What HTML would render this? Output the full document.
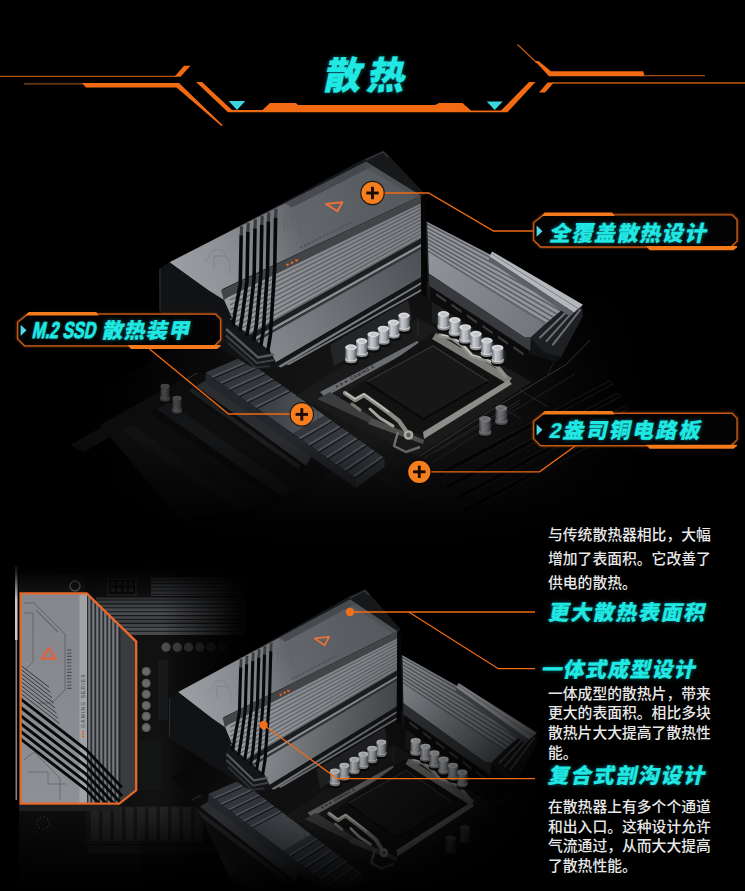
<!DOCTYPE html>
<html lang="zh-CN"><head><meta charset="utf-8"><title>散热</title>
<style>
html,body{margin:0;padding:0;background:#000;}
body{width:745px;height:891px;overflow:hidden;position:relative;font-family:"Liberation Sans","Noto Sans CJK SC",sans-serif;}
svg{position:absolute;left:0;top:0;display:block}
.t{position:absolute;white-space:nowrap;margin:0;line-height:1;}
.cy{color:#20e8e2;font-weight:900;-webkit-text-stroke:0.2px #20e8e2;font-style:normal;transform-origin:0 50%;text-shadow:0 0 4px rgba(20,200,220,.55);}
.bd{color:#e8e8e8;font-size:14.8px;font-weight:500;letter-spacing:0px;}
</style></head><body>
<svg width="745" height="891" viewBox="0 0 745 891">
<defs>
<filter id="glowO" x="-10%" y="-30%" width="120%" height="160%"><feGaussianBlur stdDeviation="1.2" result="b"/><feMerge><feMergeNode in="b"/><feMergeNode in="SourceGraphic"/></feMerge></filter>
<linearGradient id="topA" gradientUnits="userSpaceOnUse" x1="170" y1="270" x2="420" y2="170">
<stop offset="0" stop-color="#9c9fa3"/><stop offset="0.2" stop-color="#8e9195"/><stop offset="0.34" stop-color="#7e8185"/><stop offset="0.5" stop-color="#64676b"/><stop offset="0.75" stop-color="#5a5d61"/><stop offset="1" stop-color="#54575b"/></linearGradient>
<linearGradient id="ribA" gradientUnits="userSpaceOnUse" x1="240" y1="330" x2="421" y2="220">
<stop offset="0" stop-color="#979a9e"/><stop offset="0.4" stop-color="#888b8f"/><stop offset="1" stop-color="#7e8185"/></linearGradient>
<linearGradient id="smoothA" gradientUnits="userSpaceOnUse" x1="250" y1="350" x2="421" y2="255">
<stop offset="0" stop-color="#888b8f"/><stop offset="0.35" stop-color="#75787c"/><stop offset="0.7" stop-color="#5f6266"/><stop offset="1" stop-color="#4d5054"/></linearGradient>
<linearGradient id="hsB" gradientUnits="userSpaceOnUse" x1="426" y1="260" x2="540" y2="330">
<stop offset="0" stop-color="#90939a"/><stop offset="1" stop-color="#72757a"/></linearGradient>
<linearGradient id="capBody" x1="0" y1="0" x2="1" y2="0">
<stop offset="0" stop-color="#6e7175"/><stop offset="0.3" stop-color="#c9ccd0"/><stop offset="0.65" stop-color="#a9acb0"/><stop offset="1" stop-color="#55585c"/></linearGradient>
<radialGradient id="pcbG" gradientUnits="userSpaceOnUse" cx="370" cy="410" r="290">
<stop offset="0" stop-color="#181819"/><stop offset="0.45" stop-color="#0f0f10"/><stop offset="0.75" stop-color="#060606" stop-opacity="0.7"/><stop offset="1" stop-color="#000" stop-opacity="0"/></radialGradient>
<linearGradient id="topFadeB" x1="0" y1="0" x2="0" y2="1"><stop offset="0" stop-color="#000" stop-opacity="0"/><stop offset="0.75" stop-color="#000" stop-opacity="0.9"/><stop offset="1" stop-color="#000" stop-opacity="1"/></linearGradient>
<linearGradient id="cFadeR" x1="0" y1="0" x2="1" y2="0"><stop offset="0" stop-color="#000" stop-opacity="0"/><stop offset="0.06" stop-color="#000" stop-opacity="0.22"/><stop offset="0.25" stop-color="#000" stop-opacity="0.4"/><stop offset="0.38" stop-color="#000" stop-opacity="0.62"/><stop offset="0.5" stop-color="#000" stop-opacity="0.95"/><stop offset="1" stop-color="#000" stop-opacity="1"/></linearGradient>
<linearGradient id="cFadeB" x1="0" y1="0" x2="0" y2="1"><stop offset="0" stop-color="#000" stop-opacity="0"/><stop offset="0.4" stop-color="#000" stop-opacity="0.05"/><stop offset="0.7" stop-color="#000" stop-opacity="0.4"/><stop offset="0.92" stop-color="#000" stop-opacity="0.88"/><stop offset="1" stop-color="#000" stop-opacity="1"/></linearGradient>
<linearGradient id="tvBg" x1="0" y1="0" x2="1" y2="0"><stop offset="0" stop-color="#0e0e0f"/><stop offset="0.6" stop-color="#111112"/><stop offset="1" stop-color="#050505"/></linearGradient>
<linearGradient id="tvFin" x1="0" y1="0" x2="0" y2="1"><stop offset="0" stop-color="#303235"/><stop offset="0.42" stop-color="#4a4c50"/><stop offset="0.66" stop-color="#3a3c40"/><stop offset="0.82" stop-color="#4c4e52"/><stop offset="1" stop-color="#45474b"/></linearGradient>
<linearGradient id="tvFadeR" x1="0" y1="0" x2="1" y2="0"><stop offset="0" stop-color="#000" stop-opacity="0"/><stop offset="0.6" stop-color="#000" stop-opacity="0"/><stop offset="0.9" stop-color="#000" stop-opacity="0.9"/><stop offset="1" stop-color="#000" stop-opacity="1"/></linearGradient>
<linearGradient id="tvFadeT" x1="0" y1="0" x2="0" y2="1"><stop offset="0" stop-color="#000" stop-opacity="1"/><stop offset="0.3" stop-color="#000" stop-opacity="0.85"/><stop offset="1" stop-color="#000" stop-opacity="0"/></linearGradient>
<linearGradient id="tvFadeB" x1="0" y1="0" x2="0" y2="1"><stop offset="0" stop-color="#000" stop-opacity="0"/><stop offset="0.7" stop-color="#000" stop-opacity="0.8"/><stop offset="1" stop-color="#000" stop-opacity="1"/></linearGradient>
<linearGradient id="plateE" x1="0" y1="0" x2="0" y2="1"><stop offset="0" stop-color="#85878d"/><stop offset="0.5" stop-color="#888a90"/><stop offset="1" stop-color="#8e9096"/></linearGradient>
<linearGradient id="m2flat" gradientUnits="userSpaceOnUse" x1="256" y1="410" x2="320" y2="415"><stop offset="0" stop-color="#373b40"/><stop offset="1" stop-color="#53585e"/></linearGradient>
<linearGradient id="cFadeD" gradientUnits="userSpaceOnUse" x1="330" y1="700" x2="520" y2="880"><stop offset="0" stop-color="#000" stop-opacity="0"/><stop offset="0.25" stop-color="#000" stop-opacity="0.22"/><stop offset="0.5" stop-color="#000" stop-opacity="0.5"/><stop offset="0.72" stop-color="#000" stop-opacity="0.82"/><stop offset="0.9" stop-color="#000" stop-opacity="1"/><stop offset="1" stop-color="#000" stop-opacity="1"/></linearGradient>
<linearGradient id="cFadeB2" x1="0" y1="0" x2="0" y2="1"><stop offset="0" stop-color="#000" stop-opacity="0"/><stop offset="0.5" stop-color="#000" stop-opacity="0.35"/><stop offset="1" stop-color="#000" stop-opacity="0.95"/></linearGradient>
<g id="scene">
<polygon points="20.0,440.0 300.0,270.0 640.0,300.0 745.0,420.0 745.0,520.0 500.0,545.0 120.0,545.0" fill="url(#pcbG)" />
<polygon points="437.0,473.0 610.0,380.5 613.0,384.0 440.0,477.0" fill="#040404" stroke="#1d1d1e" stroke-width="0.9" opacity="0.9"/>
<polygon points="444.5,485.5 617.5,393.0 620.5,396.5 447.5,489.5" fill="#040404" stroke="#1d1d1e" stroke-width="0.9" opacity="0.9"/>
<polygon points="452.0,498.0 625.0,405.5 628.0,409.0 455.0,502.0" fill="#040404" stroke="#1d1d1e" stroke-width="0.9" opacity="0.9"/>
<polygon points="459.5,510.5 632.5,418.0 635.5,421.5 462.5,514.5" fill="#040404" stroke="#1d1d1e" stroke-width="0.9" opacity="0.9"/>
<polyline points="420.0,456.0 492.0,409.5 566.0,364.5 590.0,340.0" fill="none" stroke="#4a4a4a" stroke-width="0.90" opacity="0.75"/>
<polyline points="432.0,463.0 505.0,416.0 575.0,374.0" fill="none" stroke="#333" stroke-width="0.80" opacity="0.7"/>
<polyline points="495.0,403.0 521.0,419.0" fill="none" stroke="#3c3c3c" stroke-width="0.80" opacity="0.7"/>
<polyline points="520.0,390.0 548.0,407.0" fill="none" stroke="#3c3c3c" stroke-width="0.80" opacity="0.7"/>
<polyline points="548.0,374.0 575.0,320.0" fill="none" stroke="#3a3a3a" stroke-width="0.80" opacity="0.6"/>
<polyline points="300.0,430.0 330.0,448.0 420.0,500.0" fill="none" stroke="#2a2a2a" stroke-width="0.80" opacity="0.7"/>
<polygon points="100.0,425.0 190.0,375.0 330.0,470.0 300.0,500.0 180.0,520.0" fill="#0e0e0f" opacity="0.9"/>
<polygon points="186.0,379.0 196.0,373.0 312.0,455.0 306.0,466.0" fill="#2a2c2f" />
<line x1="196.0" y1="373.4" x2="312.0" y2="455.4" stroke="#45474b" stroke-width="1.00" />
<polygon points="186.0,379.0 306.0,466.0 304.0,478.0 184.0,391.0" fill="#0c0c0d" />
<polygon points="190.0,386.0 300.0,465.0 299.0,470.0 189.0,391.0" fill="#1c1d1f" />
<polygon points="148.0,403.0 160.0,396.0 292.0,488.0 282.0,497.0" fill="#141516" />
<polygon points="148.0,403.0 282.0,497.0 281.0,505.0 147.0,411.0" fill="#09090a" />
<polygon points="120.0,430.0 130.0,424.0 250.0,505.0 240.0,512.0" fill="#111112" />
<polygon points="70.0,445.0 200.0,372.0 210.0,378.0 84.0,452.0" fill="#0c0c0d" />
<polygon points="205.5,372.4 356.0,478.0 356.0,488.0 205.5,382.5" fill="#23262a" />
<polygon points="356.0,478.0 384.5,458.0 384.5,467.0 356.0,488.0" fill="#2c2f34" />
<polygon points="205.5,372.4 242.0,357.0 384.5,458.0 356.0,478.0" fill="#121316" />
<polygon points="205.5,372.4 242.0,357.0 247.1,360.6 210.9,376.2" fill="#33373c" />
<polygon points="210.9,376.2 247.1,360.6 249.1,362.1 213.0,377.7" fill="#4d5258" />
<polygon points="214.2,378.5 250.2,362.8 255.3,366.4 219.5,382.2" fill="#33373c" />
<polygon points="219.5,382.2 255.3,366.4 257.3,367.9 221.7,383.8" fill="#4d5258" />
<polygon points="222.8,384.5 258.4,368.6 263.5,372.2 228.2,388.3" fill="#33373c" />
<polygon points="228.2,388.3 263.5,372.2 265.5,373.7 230.3,389.8" fill="#4d5258" />
<polygon points="231.5,390.6 266.6,374.4 271.7,378.0 236.8,394.4" fill="#33373c" />
<polygon points="236.8,394.4 271.7,378.0 273.7,379.5 239.0,395.9" fill="#4d5258" />
<polygon points="240.1,396.7 274.8,380.2 279.9,383.8 245.5,400.5" fill="#33373c" />
<polygon points="245.5,400.5 279.9,383.8 281.9,385.3 247.6,402.0" fill="#4d5258" />
<polygon points="248.8,402.8 283.0,386.0 288.0,389.6 254.1,406.5" fill="#33373c" />
<polygon points="254.1,406.5 288.0,389.6 290.1,391.1 256.3,408.0" fill="#4d5258" />
<polygon points="292.8,433.6 324.6,415.6 330.0,419.3 298.4,437.6" fill="#33373c" />
<polygon points="298.4,437.6 330.0,419.3 332.1,420.9 300.6,439.2" fill="#4d5258" />
<polygon points="301.8,440.0 333.2,421.6 338.5,425.4 307.4,443.9" fill="#33373c" />
<polygon points="307.4,443.9 338.5,425.4 340.6,426.9 309.7,445.5" fill="#4d5258" />
<polygon points="310.9,446.3 341.8,427.7 347.1,431.5 316.4,450.2" fill="#33373c" />
<polygon points="316.4,450.2 347.1,431.5 349.2,433.0 318.7,451.8" fill="#4d5258" />
<polygon points="319.9,452.7 350.3,433.8 355.6,437.5 325.5,456.6" fill="#33373c" />
<polygon points="325.5,456.6 355.6,437.5 357.7,439.0 327.7,458.2" fill="#4d5258" />
<polygon points="328.9,459.0 358.9,439.8 364.2,443.6 334.5,462.9" fill="#33373c" />
<polygon points="334.5,462.9 364.2,443.6 366.3,445.1 336.8,464.5" fill="#4d5258" />
<polygon points="337.9,465.3 367.4,445.9 372.7,449.6 343.5,469.3" fill="#33373c" />
<polygon points="343.5,469.3 372.7,449.6 374.8,451.2 345.8,470.8" fill="#4d5258" />
<polygon points="347.0,471.7 375.9,451.9 381.3,455.7 352.6,475.6" fill="#33373c" />
<polygon points="352.6,475.6 381.3,455.7 383.4,457.2 354.8,477.2" fill="#4d5258" />
<polygon points="257.4,408.8 291.2,391.8 324.6,415.6 292.8,433.6" fill="url(#m2flat)" />
<polygon points="418.0,318.0 532.0,382.0 416.0,456.0 296.0,396.0" fill="#1a1a1b" />
<polygon points="330.0,345.0 408.0,300.0 412.0,320.0 334.0,366.0" fill="#242527" />
<polygon points="432.0,302.0 506.0,344.0 506.0,362.0 432.0,322.0" fill="#1c1d1f" />
<polygon points="320.0,392.0 417.0,341.0 421.0,344.5 325.0,397.0" fill="#6b6e71" />
<text x="0" y="0" transform="translate(336,388.3) rotate(-28)" font-family="Liberation Sans, sans-serif" font-size="4.6" font-weight="700" letter-spacing="0.5" fill="#2a2b2d">&#9658;&#9658;&#9658; GAMING X</text>
<polygon points="317.0,399.0 330.0,392.0 372.0,417.0 372.0,424.0" fill="#3b3c3d" />
<polygon points="431.0,334.0 512.0,380.0 424.0,437.0 340.0,398.0" fill="#121212" />
<polygon points="436.0,333.0 512.0,378.0 508.0,384.0 432.0,339.0" fill="#7d7c78" />
<polygon points="423.0,432.0 508.0,380.0 512.0,384.0 424.0,439.0" fill="#8c8c89" />
<polygon points="372.0,418.0 424.0,440.0 423.0,444.0 368.0,424.0" fill="#4e4e4d" />
<polygon points="433.0,346.0 488.5,381.5 423.5,419.0 366.0,382.0" fill="#171717" />
<polyline points="366.0,382.0 433.0,346.0 488.5,381.5" fill="none" stroke="#343434" stroke-width="1.20" />
<polyline points="366.0,382.0 423.5,419.0 488.5,381.5" fill="none" stroke="#080808" stroke-width="1.50" />
<polyline points="345.0,393.0 355.0,400.0 364.0,395.0 378.0,405.0 389.0,413.0 399.0,421.0 406.0,431.0" fill="none" stroke="#8a8984" stroke-width="4.40" stroke-linejoin="round" stroke-linecap="round"/>
<polyline points="345.0,392.4 355.0,399.0 364.0,394.0 378.0,404.0 389.0,412.0" fill="none" stroke="#c9c7c0" stroke-width="1.30" stroke-linejoin="round"/>
<polyline points="370.0,409.0 380.0,418.0 393.0,426.0" fill="none" stroke="#a5a49f" stroke-width="3.00" stroke-linecap="round"/>
<polyline points="352.0,404.0 360.0,410.0" fill="none" stroke="#77766f" stroke-width="3.00" stroke-linecap="round"/>
<polyline points="440.0,335.5 452.0,338.0 462.0,345.0 472.0,356.0 486.0,360.0 497.0,366.0 505.0,376.0" fill="none" stroke="#8f8e89" stroke-width="4.20" stroke-linejoin="round" stroke-linecap="round"/>
<polyline points="441.0,334.6 452.0,337.0 462.0,344.0 472.0,355.0 486.0,359.0 497.0,365.0" fill="none" stroke="#cfcdc6" stroke-width="1.20" stroke-linejoin="round"/>
<circle cx="408.5" cy="435" r="4.8" fill="#a9a8a3"/><circle cx="408.5" cy="435" r="2.2" fill="#5b5a55"/>
<polyline points="398.0,432.0 394.0,446.0 406.0,452.0 420.0,447.0" fill="none" stroke="#73726d" stroke-width="2.40" stroke-linejoin="round"/>
<polyline points="300.0,402.0 318.0,412.0 318.0,430.0" fill="none" stroke="#3c3c3c" stroke-width="0.90" opacity="0.8"/>
<polyline points="424.0,458.0 470.0,430.0 520.0,400.0" fill="none" stroke="#343434" stroke-width="0.90" opacity="0.8"/>
<polyline points="436.0,452.0 520.0,403.0" fill="none" stroke="#2c2c2c" stroke-width="0.90" opacity="0.7"/>
<polyline points="418.0,322.0 418.0,336.0" fill="none" stroke="#3a3a3a" stroke-width="0.90" opacity="0.8"/>
<polygon points="428.0,284.0 524.0,352.0 522.0,362.0 430.5,300.0" fill="#0c0c0d" />
<polygon points="436.0,293.0 446.0,300.0 446.0,302.5 436.0,295.5" fill="#3a3c3f" />
<polygon points="451.5,303.6 461.5,310.6 461.5,313.1 451.5,306.1" fill="#3a3c3f" />
<polygon points="467.0,314.2 477.0,321.2 477.0,323.7 467.0,316.7" fill="#3a3c3f" />
<polygon points="482.5,324.8 492.5,331.8 492.5,334.3 482.5,327.3" fill="#3a3c3f" />
<polygon points="498.0,335.4 508.0,342.4 508.0,344.9 498.0,337.9" fill="#3a3c3f" />
<polygon points="513.5,346.0 523.5,353.0 523.5,355.5 513.5,348.5" fill="#3a3c3f" />
<polygon points="565.0,307.6 582.0,305.0 583.0,316.0 561.0,357.0 530.0,351.0 531.0,336.0" fill="#1d1f22" />
<line x1="539.5" y1="338.0" x2="570.2" y2="308.2" stroke="#6c6f75" stroke-width="2.00" />
<line x1="546.0" y1="341.6" x2="575.4" y2="308.8" stroke="#6c6f75" stroke-width="2.00" />
<line x1="552.5" y1="345.2" x2="580.6" y2="309.4" stroke="#6c6f75" stroke-width="2.00" />
<polygon points="531.0,338.0 544.0,352.0 561.0,357.0 556.0,362.0 528.0,354.0" fill="#111214" />
<polygon points="426.4,221.4 491.0,254.9 566.0,306.5 545.0,324.2 428.0,251.6" fill="#92959a" />
<clipPath id="clipBr"><polygon points="426.4,221.4 491,254.9 566,306.5 545,324.2 428,251.6"/></clipPath><g clip-path="url(#clipBr)">
<line x1="427.0" y1="224.0" x2="570.0" y2="299.8" stroke="#54575b" stroke-width="1.50" opacity="0.9"/>
<line x1="427.0" y1="227.8" x2="570.0" y2="305.2" stroke="#54575b" stroke-width="1.50" opacity="0.9"/>
<line x1="427.0" y1="231.6" x2="570.0" y2="310.7" stroke="#54575b" stroke-width="1.50" opacity="0.9"/>
<line x1="427.0" y1="235.4" x2="570.0" y2="316.1" stroke="#54575b" stroke-width="1.50" opacity="0.9"/>
<line x1="427.0" y1="239.1" x2="570.0" y2="321.6" stroke="#54575b" stroke-width="1.50" opacity="0.9"/>
<line x1="427.0" y1="242.9" x2="570.0" y2="327.1" stroke="#54575b" stroke-width="1.50" opacity="0.9"/>
<line x1="427.0" y1="246.7" x2="570.0" y2="332.5" stroke="#54575b" stroke-width="1.50" opacity="0.9"/>
<line x1="427.0" y1="250.5" x2="570.0" y2="338.0" stroke="#54575b" stroke-width="1.50" opacity="0.9"/>
</g>
<polygon points="428.0,251.6 545.0,324.2 531.0,337.0 524.0,336.9 428.0,273.0" fill="url(#hsB)" />
<polygon points="428.0,273.0 524.0,336.9 531.0,337.0 530.0,351.0 428.0,285.0" fill="#37393d" />
<polygon points="566.0,306.5 590.0,300.0 590.0,330.0 545.0,324.2" fill="#000" opacity="0"/>
<polygon points="489.5,256.5 492.0,251.4 583.0,304.8 574.0,312.5" fill="#b4b7bb" />
<line x1="491.5" y1="253.8" x2="578.0" y2="308.5" stroke="#7d8084" stroke-width="1.00" />
<polygon points="489.5,256.5 574.0,312.5 570.0,316.5 488.5,260.5" fill="#5d6064" />
<line x1="426.3" y1="221.5" x2="429.0" y2="299.0" stroke="#1c1d1f" stroke-width="1.60" />
<g opacity="1.00"><ellipse cx="444.0" cy="329.0" rx="7.0" ry="3.8" fill="#0a0a0b"/><path d="M437.4 325.4 v2.4 a6.2 3.0 0 0 0 12.3 0 v-2.4 z" fill="#8a8d90"/><path d="M437.8 314.0 v11.8 a5.8 3.0 0 0 0 11.5 0 v-11.8 z" fill="url(#capBody)"/><path d="M437.8 325.4 a5.8 3.0 0 0 0 11.5 0" fill="none" stroke="#d6d8db" stroke-width="1"/><ellipse cx="443.5" cy="314.0" rx="5.8" ry="3.0" fill="#d9dbde"/><ellipse cx="443.8" cy="314.2" rx="3.6" ry="1.8" fill="#c4c6ca"/></g>
<g opacity="1.00"><ellipse cx="455.3" cy="335.0" rx="7.0" ry="3.8" fill="#0a0a0b"/><path d="M448.7 331.4 v2.4 a6.2 3.0 0 0 0 12.3 0 v-2.4 z" fill="#8a8d90"/><path d="M449.1 320.0 v11.8 a5.8 3.0 0 0 0 11.5 0 v-11.8 z" fill="url(#capBody)"/><path d="M449.1 331.4 a5.8 3.0 0 0 0 11.5 0" fill="none" stroke="#d6d8db" stroke-width="1"/><ellipse cx="454.8" cy="320.0" rx="5.8" ry="3.0" fill="#d9dbde"/><ellipse cx="455.1" cy="320.2" rx="3.6" ry="1.8" fill="#c4c6ca"/></g>
<g opacity="1.00"><ellipse cx="465.8" cy="342.2" rx="7.0" ry="3.8" fill="#0a0a0b"/><path d="M459.2 338.6 v2.4 a6.2 3.0 0 0 0 12.3 0 v-2.4 z" fill="#8a8d90"/><path d="M459.6 327.2 v11.8 a5.8 3.0 0 0 0 11.5 0 v-11.8 z" fill="url(#capBody)"/><path d="M459.6 338.6 a5.8 3.0 0 0 0 11.5 0" fill="none" stroke="#d6d8db" stroke-width="1"/><ellipse cx="465.3" cy="327.2" rx="5.8" ry="3.0" fill="#d9dbde"/><ellipse cx="465.6" cy="327.4" rx="3.6" ry="1.8" fill="#c4c6ca"/></g>
<g opacity="1.00"><ellipse cx="476.4" cy="348.8" rx="7.0" ry="3.8" fill="#0a0a0b"/><path d="M469.8 345.2 v2.4 a6.2 3.0 0 0 0 12.3 0 v-2.4 z" fill="#8a8d90"/><path d="M470.1 333.8 v11.8 a5.8 3.0 0 0 0 11.5 0 v-11.8 z" fill="url(#capBody)"/><path d="M470.1 345.2 a5.8 3.0 0 0 0 11.5 0" fill="none" stroke="#d6d8db" stroke-width="1"/><ellipse cx="475.9" cy="333.8" rx="5.8" ry="3.0" fill="#d9dbde"/><ellipse cx="476.2" cy="334.0" rx="3.6" ry="1.8" fill="#c4c6ca"/></g>
<g opacity="1.00"><ellipse cx="487.3" cy="355.5" rx="7.0" ry="3.8" fill="#0a0a0b"/><path d="M480.7 351.9 v2.4 a6.2 3.0 0 0 0 12.3 0 v-2.4 z" fill="#8a8d90"/><path d="M481.1 340.5 v11.8 a5.8 3.0 0 0 0 11.5 0 v-11.8 z" fill="url(#capBody)"/><path d="M481.1 351.9 a5.8 3.0 0 0 0 11.5 0" fill="none" stroke="#d6d8db" stroke-width="1"/><ellipse cx="486.8" cy="340.5" rx="5.8" ry="3.0" fill="#d9dbde"/><ellipse cx="487.1" cy="340.7" rx="3.6" ry="1.8" fill="#c4c6ca"/></g>
<g opacity="1.00"><ellipse cx="498.1" cy="362.7" rx="7.0" ry="3.8" fill="#0a0a0b"/><path d="M491.5 359.1 v2.4 a6.2 3.0 0 0 0 12.3 0 v-2.4 z" fill="#8a8d90"/><path d="M491.9 347.7 v11.8 a5.8 3.0 0 0 0 11.5 0 v-11.8 z" fill="url(#capBody)"/><path d="M491.9 359.1 a5.8 3.0 0 0 0 11.5 0" fill="none" stroke="#d6d8db" stroke-width="1"/><ellipse cx="497.6" cy="347.7" rx="5.8" ry="3.0" fill="#d9dbde"/><ellipse cx="497.9" cy="347.9" rx="3.6" ry="1.8" fill="#c4c6ca"/></g>
<g opacity="1.00"><ellipse cx="404.5" cy="330.3" rx="6.9" ry="3.7" fill="#0a0a0b"/><path d="M398.0 326.7 v2.4 a6.1 2.9 0 0 0 12.1 0 v-2.4 z" fill="#8a8d90"/><path d="M398.4 315.5 v11.6 a5.7 2.9 0 0 0 11.3 0 v-11.6 z" fill="url(#capBody)"/><path d="M398.4 326.7 a5.7 2.9 0 0 0 11.3 0" fill="none" stroke="#d6d8db" stroke-width="1"/><ellipse cx="404.0" cy="315.5" rx="5.7" ry="2.9" fill="#d9dbde"/><ellipse cx="404.3" cy="315.7" rx="3.5" ry="1.8" fill="#c4c6ca"/></g>
<g opacity="1.00"><ellipse cx="394.0" cy="337.3" rx="6.9" ry="3.7" fill="#0a0a0b"/><path d="M387.5 333.7 v2.4 a6.1 2.9 0 0 0 12.1 0 v-2.4 z" fill="#8a8d90"/><path d="M387.9 322.5 v11.6 a5.7 2.9 0 0 0 11.3 0 v-11.6 z" fill="url(#capBody)"/><path d="M387.9 333.7 a5.7 2.9 0 0 0 11.3 0" fill="none" stroke="#d6d8db" stroke-width="1"/><ellipse cx="393.5" cy="322.5" rx="5.7" ry="2.9" fill="#d9dbde"/><ellipse cx="393.8" cy="322.7" rx="3.5" ry="1.8" fill="#c4c6ca"/></g>
<g opacity="1.00"><ellipse cx="383.9" cy="343.4" rx="6.9" ry="3.7" fill="#0a0a0b"/><path d="M377.4 339.8 v2.4 a6.1 2.9 0 0 0 12.1 0 v-2.4 z" fill="#8a8d90"/><path d="M377.8 328.6 v11.6 a5.7 2.9 0 0 0 11.3 0 v-11.6 z" fill="url(#capBody)"/><path d="M377.8 339.8 a5.7 2.9 0 0 0 11.3 0" fill="none" stroke="#d6d8db" stroke-width="1"/><ellipse cx="383.4" cy="328.6" rx="5.7" ry="2.9" fill="#d9dbde"/><ellipse cx="383.7" cy="328.8" rx="3.5" ry="1.8" fill="#c4c6ca"/></g>
<g opacity="1.00"><ellipse cx="373.7" cy="349.1" rx="6.9" ry="3.7" fill="#0a0a0b"/><path d="M367.2 345.5 v2.4 a6.1 2.9 0 0 0 12.1 0 v-2.4 z" fill="#8a8d90"/><path d="M367.6 334.3 v11.6 a5.7 2.9 0 0 0 11.3 0 v-11.6 z" fill="url(#capBody)"/><path d="M367.6 345.5 a5.7 2.9 0 0 0 11.3 0" fill="none" stroke="#d6d8db" stroke-width="1"/><ellipse cx="373.2" cy="334.3" rx="5.7" ry="2.9" fill="#d9dbde"/><ellipse cx="373.5" cy="334.5" rx="3.5" ry="1.8" fill="#c4c6ca"/></g>
<g opacity="1.00"><ellipse cx="362.2" cy="355.8" rx="6.9" ry="3.7" fill="#0a0a0b"/><path d="M355.7 352.2 v2.4 a6.1 2.9 0 0 0 12.1 0 v-2.4 z" fill="#8a8d90"/><path d="M356.1 341.0 v11.6 a5.7 2.9 0 0 0 11.3 0 v-11.6 z" fill="url(#capBody)"/><path d="M356.1 352.2 a5.7 2.9 0 0 0 11.3 0" fill="none" stroke="#d6d8db" stroke-width="1"/><ellipse cx="361.7" cy="341.0" rx="5.7" ry="2.9" fill="#d9dbde"/><ellipse cx="362.0" cy="341.2" rx="3.5" ry="1.8" fill="#c4c6ca"/></g>
<g opacity="1.00"><ellipse cx="351.5" cy="362.0" rx="6.9" ry="3.7" fill="#0a0a0b"/><path d="M345.0 358.4 v2.4 a6.1 2.9 0 0 0 12.1 0 v-2.4 z" fill="#8a8d90"/><path d="M345.4 347.2 v11.6 a5.7 2.9 0 0 0 11.3 0 v-11.6 z" fill="url(#capBody)"/><path d="M345.4 358.4 a5.7 2.9 0 0 0 11.3 0" fill="none" stroke="#d6d8db" stroke-width="1"/><ellipse cx="351.0" cy="347.2" rx="5.7" ry="2.9" fill="#d9dbde"/><ellipse cx="351.3" cy="347.4" rx="3.5" ry="1.8" fill="#c4c6ca"/></g>
<g opacity="0.50"><ellipse cx="485.5" cy="434.4" rx="7.0" ry="3.8" fill="#0a0a0b"/><path d="M478.9 430.8 v2.4 a6.2 3.0 0 0 0 12.3 0 v-2.4 z" fill="#8a8d90"/><path d="M479.2 419.0 v12.2 a5.8 3.0 0 0 0 11.5 0 v-12.2 z" fill="url(#capBody)"/><path d="M479.2 430.8 a5.8 3.0 0 0 0 11.5 0" fill="none" stroke="#d6d8db" stroke-width="1"/><ellipse cx="485.0" cy="419.0" rx="5.8" ry="3.0" fill="#d9dbde"/><ellipse cx="485.3" cy="419.2" rx="3.6" ry="1.8" fill="#c4c6ca"/></g>
<g opacity="0.50"><ellipse cx="501.8" cy="423.4" rx="7.0" ry="3.8" fill="#0a0a0b"/><path d="M495.2 419.8 v2.4 a6.2 3.0 0 0 0 12.3 0 v-2.4 z" fill="#8a8d90"/><path d="M495.6 408.0 v12.2 a5.8 3.0 0 0 0 11.5 0 v-12.2 z" fill="url(#capBody)"/><path d="M495.6 419.8 a5.8 3.0 0 0 0 11.5 0" fill="none" stroke="#d6d8db" stroke-width="1"/><ellipse cx="501.3" cy="408.0" rx="5.8" ry="3.0" fill="#d9dbde"/><ellipse cx="501.6" cy="408.2" rx="3.6" ry="1.8" fill="#c4c6ca"/></g>
<g opacity="0.30"><ellipse cx="165.5" cy="400.4" rx="5.7" ry="3.1" fill="#0a0a0b"/><path d="M160.1 396.8 v2.4 a4.9 2.3 0 0 0 9.8 0 v-2.4 z" fill="#8a8d90"/><path d="M160.5 386.0 v11.2 a4.5 2.3 0 0 0 9.0 0 v-11.2 z" fill="url(#capBody)"/><path d="M160.5 396.8 a4.5 2.3 0 0 0 9.0 0" fill="none" stroke="#d6d8db" stroke-width="1"/><ellipse cx="165.0" cy="386.0" rx="4.5" ry="2.3" fill="#d9dbde"/><ellipse cx="165.3" cy="386.2" rx="2.8" ry="1.4" fill="#c4c6ca"/></g>
<g opacity="0.30"><ellipse cx="177.5" cy="412.4" rx="5.7" ry="3.1" fill="#0a0a0b"/><path d="M172.1 408.8 v2.4 a4.9 2.3 0 0 0 9.8 0 v-2.4 z" fill="#8a8d90"/><path d="M172.5 398.0 v11.2 a4.5 2.3 0 0 0 9.0 0 v-11.2 z" fill="url(#capBody)"/><path d="M172.5 408.8 a4.5 2.3 0 0 0 9.0 0" fill="none" stroke="#d6d8db" stroke-width="1"/><ellipse cx="177.0" cy="398.0" rx="4.5" ry="2.3" fill="#d9dbde"/><ellipse cx="177.3" cy="398.2" rx="2.8" ry="1.4" fill="#c4c6ca"/></g>
<polygon points="159.5,268.5 168.5,262.5 223.0,299.0 236.0,322.0 258.0,361.0 250.0,366.0 160.0,312.0" fill="#111214" />
<line x1="160.0" y1="269.0" x2="160.0" y2="311.0" stroke="#2d2f32" stroke-width="1.20" />
<polygon points="159.5,268.5 366.0,158.0 384.0,150.5 425.0,194.0 421.0,197.0 366.0,162.5 168.5,264.0" fill="#17181a" />
<polyline points="366.0,160.0 383.0,152.0 388.0,157.0" fill="none" stroke="#3a3c3f" stroke-width="1.20" />
<polygon points="169.5,262.2 366.0,161.7 421.0,195.8 222.0,289.3 224.0,300.0 208.5,290.2" fill="url(#topA)" />
<polygon points="285.0,203.2 366.0,161.7 373.0,166.0 292.0,207.5" fill="#3f4145" opacity="0.75"/>
<polygon points="366.0,161.7 421.0,195.8 416.0,198.0 362.0,165.0" fill="#4a4c50" opacity="0.6"/>
<polyline points="205.0,262.0 213.0,250.0 222.0,250.0 230.0,262.0 230.0,274.0" fill="none" stroke="#6a6d71" stroke-width="0.90" opacity="0.4"/>
<polyline points="214.0,268.0 214.0,256.0 226.0,256.0" fill="none" stroke="#74777b" stroke-width="1.00" opacity="0.6"/>
<polyline points="282.0,222.0 300.0,212.0 300.0,236.0 318.0,226.0" fill="none" stroke="#60636a" stroke-width="0.90" opacity="0.7"/>
<line x1="284.0" y1="214.0" x2="284.0" y2="232.0" stroke="#5f6266" stroke-width="0.90" opacity="0.6"/>
<line x1="287.2" y1="212.4" x2="287.2" y2="230.4" stroke="#5f6266" stroke-width="0.90" opacity="0.6"/>
<line x1="290.4" y1="210.8" x2="290.4" y2="228.8" stroke="#5f6266" stroke-width="0.90" opacity="0.6"/>
<line x1="293.6" y1="209.2" x2="293.6" y2="227.2" stroke="#5f6266" stroke-width="0.90" opacity="0.6"/>
<line x1="296.8" y1="207.6" x2="296.8" y2="225.6" stroke="#5f6266" stroke-width="0.90" opacity="0.6"/>
<line x1="300.0" y1="206.0" x2="300.0" y2="224.0" stroke="#5f6266" stroke-width="0.90" opacity="0.6"/>
<line x1="303.2" y1="204.4" x2="303.2" y2="222.4" stroke="#5f6266" stroke-width="0.90" opacity="0.6"/>
<polyline points="300.0,248.0 352.0,222.0" fill="none" stroke="#4c4f53" stroke-width="1.60" opacity="0.8" stroke-dasharray="3 1.2"/>
<polygon points="221.0,290.2 421.5,195.6 421.5,203.1 224.0,300.2" fill="#424448" />
<polygon points="224.0,300.0 228.0,297.3 421.5,203.1 421.5,238.2 240.0,340.0 234.0,322.0" fill="url(#ribA)" />
<line x1="230.0" y1="300.0" x2="421.5" y2="205.7" stroke="#55585c" stroke-width="1.30" opacity="0.85"/>
<line x1="230.0" y1="304.9" x2="421.5" y2="209.2" stroke="#55585c" stroke-width="1.30" opacity="0.85"/>
<line x1="230.0" y1="309.9" x2="421.5" y2="212.7" stroke="#55585c" stroke-width="1.30" opacity="0.85"/>
<line x1="230.0" y1="314.8" x2="421.5" y2="216.2" stroke="#55585c" stroke-width="1.30" opacity="0.85"/>
<line x1="230.0" y1="319.7" x2="421.5" y2="219.7" stroke="#55585c" stroke-width="1.30" opacity="0.85"/>
<line x1="230.0" y1="324.6" x2="421.5" y2="223.2" stroke="#55585c" stroke-width="1.30" opacity="0.85"/>
<line x1="230.0" y1="329.6" x2="421.5" y2="226.8" stroke="#55585c" stroke-width="1.30" opacity="0.85"/>
<line x1="230.0" y1="334.5" x2="421.5" y2="230.3" stroke="#55585c" stroke-width="1.30" opacity="0.85"/>
<line x1="230.0" y1="339.4" x2="421.5" y2="233.8" stroke="#55585c" stroke-width="1.30" opacity="0.85"/>
<line x1="230.0" y1="344.4" x2="421.5" y2="237.3" stroke="#55585c" stroke-width="1.30" opacity="0.85"/>
<polygon points="240.0,340.0 421.5,238.2 421.5,243.7 243.0,343.8" fill="#1c1e20" />
<polygon points="243.0,343.8 421.5,243.7 421.5,246.6 245.0,345.9" fill="#8b8e92" />
<polygon points="245.0,345.9 421.5,246.6 421.5,248.7 246.0,347.8" fill="#36383c" />
<polygon points="248.0,346.7 421.5,248.7 421.5,277.1 276.0,362.2 262.0,364.0" fill="url(#smoothA)" />
<polygon points="262.0,366.0 274.0,363.4 421.5,277.1 421.5,291.8 292.0,364.0 266.0,370.0" fill="#141517" />
<polygon points="278.0,366.3 421.5,282.0 421.5,284.1 281.0,367.5" fill="#797c80" />
<polygon points="286.0,364.4 421.5,288.9 421.5,291.0 289.0,365.1" fill="#74777b" />
<polygon points="225.0,324.0 231.0,321.0 270.0,351.0 276.0,362.2 266.0,370.0 250.0,366.0 225.0,343.0" fill="#141517" />
<polyline points="226.0,329.0 258.0,357.5 274.0,354.5" fill="none" stroke="#55585c" stroke-width="2.40" stroke-linejoin="round"/>
<polyline points="226.0,335.5 257.0,363.0 274.0,360.0" fill="none" stroke="#3f4246" stroke-width="2.20" stroke-linejoin="round"/>
<polyline points="228.0,343.0 256.0,367.5 270.0,366.0" fill="none" stroke="#2c2e31" stroke-width="2.00" stroke-linejoin="round"/>
<polygon points="420.8,195.5 425.5,198.5 426.0,297.0 421.3,294.0" fill="#060607" />
<polyline points="241.6,226.3 241.2,235.3" fill="none" stroke="#3a3c3f" stroke-width="3.20" />
<polyline points="241.2,235.3 240.3,284.1 235.6,309.4 233.0,325.4" fill="none" stroke="#07080a" stroke-width="3.60" stroke-linejoin="round"/>
<polyline points="248.3,222.9 247.9,231.9" fill="none" stroke="#3a3c3f" stroke-width="3.20" />
<polyline points="247.9,231.9 247.0,280.9 242.5,314.6 239.9,330.6" fill="none" stroke="#07080a" stroke-width="3.60" stroke-linejoin="round"/>
<polyline points="255.4,219.3 255.0,228.3" fill="none" stroke="#3a3c3f" stroke-width="3.20" />
<polyline points="255.0,228.3 254.1,277.6 249.5,319.7 246.9,335.7" fill="none" stroke="#07080a" stroke-width="3.60" stroke-linejoin="round"/>
<polyline points="262.2,215.8 261.8,224.8" fill="none" stroke="#3a3c3f" stroke-width="3.20" />
<polyline points="261.8,224.8 260.9,274.4 256.4,324.9 253.8,340.9" fill="none" stroke="#07080a" stroke-width="3.60" stroke-linejoin="round"/>
<polyline points="268.8,212.4 268.4,221.4" fill="none" stroke="#3a3c3f" stroke-width="3.20" />
<polyline points="268.4,221.4 267.5,271.3 263.4,330.0 260.8,346.0" fill="none" stroke="#07080a" stroke-width="3.60" stroke-linejoin="round"/>
<polyline points="276.0,208.7 275.6,217.7" fill="none" stroke="#3a3c3f" stroke-width="3.20" />
<polyline points="275.6,217.7 274.7,267.9 270.4,335.2 267.8,351.2" fill="none" stroke="#07080a" stroke-width="3.60" stroke-linejoin="round"/>
<text x="286" y="267" font-family="Liberation Sans, sans-serif" font-size="5.5" font-weight="700" fill="#e56a1e" transform="rotate(-25 286 267)" letter-spacing="-0.5">&#9658;&#9658;&#9658;</text>
<polygon points="326.0,203.9 342.4,202.2 337.4,211.3" fill="none" stroke="#ee7236" stroke-width="1.9" stroke-linejoin="round"/>
</g></defs>
<rect width="745" height="891" fill="#000"/>
<use href="#scene"/>
<rect x="0" y="440" width="745" height="110" fill="url(#topFadeB)"/>
<rect x="19" y="566" width="235" height="325" fill="url(#tvBg)"/>
<line x1="16.3" y1="568.0" x2="16.3" y2="800.0" stroke="#9a9a9a" stroke-width="1.60" opacity="0.85"/>
<polygon points="15.0,566.0 17.5,566.0 17.5,640.0 15.0,640.0" fill="#c8c8c8" />
<rect x="19" y="574" width="66" height="19" fill="#161718"/>
<circle cx="75" cy="586" r="5" fill="none" stroke="#6a6a6a" stroke-width="1.4"/>
<rect x="108" y="579" width="28" height="16" fill="#0a0a0a" stroke="#2c2c2c" stroke-width="1"/>
<rect x="111.0" y="581.5" width="4" height="4" fill="#1c1c1c"/>
<rect x="111.0" y="588.0" width="4" height="4" fill="#1c1c1c"/>
<rect x="117.0" y="581.5" width="4" height="4" fill="#1c1c1c"/>
<rect x="117.0" y="588.0" width="4" height="4" fill="#1c1c1c"/>
<rect x="123.0" y="581.5" width="4" height="4" fill="#1c1c1c"/>
<rect x="123.0" y="588.0" width="4" height="4" fill="#1c1c1c"/>
<rect x="129.0" y="581.5" width="4" height="4" fill="#1c1c1c"/>
<rect x="129.0" y="588.0" width="4" height="4" fill="#1c1c1c"/>
<rect x="151" y="577.5" width="90" height="18.5" fill="#36383c"/>
<line x1="151.0" y1="580.0" x2="241.0" y2="580.0" stroke="#18191b" stroke-width="1.00" />
<line x1="151.0" y1="583.6" x2="241.0" y2="583.6" stroke="#18191b" stroke-width="1.00" />
<line x1="151.0" y1="587.2" x2="241.0" y2="587.2" stroke="#18191b" stroke-width="1.00" />
<line x1="151.0" y1="590.8" x2="241.0" y2="590.8" stroke="#18191b" stroke-width="1.00" />
<line x1="151.0" y1="594.4" x2="241.0" y2="594.4" stroke="#18191b" stroke-width="1.00" />
<rect x="96" y="597.5" width="150" height="37.5" fill="url(#tvFin)"/>
<line x1="96.0" y1="600.0" x2="246.0" y2="600.0" stroke="#151617" stroke-width="1.10" />
<line x1="96.0" y1="603.9" x2="246.0" y2="603.9" stroke="#151617" stroke-width="1.10" />
<line x1="96.0" y1="607.8" x2="246.0" y2="607.8" stroke="#151617" stroke-width="1.10" />
<line x1="96.0" y1="611.7" x2="246.0" y2="611.7" stroke="#151617" stroke-width="1.10" />
<line x1="96.0" y1="615.6" x2="246.0" y2="615.6" stroke="#151617" stroke-width="1.10" />
<line x1="96.0" y1="619.5" x2="246.0" y2="619.5" stroke="#151617" stroke-width="1.10" />
<line x1="96.0" y1="623.4" x2="246.0" y2="623.4" stroke="#151617" stroke-width="1.10" />
<line x1="96.0" y1="627.3" x2="246.0" y2="627.3" stroke="#151617" stroke-width="1.10" />
<line x1="96.0" y1="631.2" x2="246.0" y2="631.2" stroke="#151617" stroke-width="1.10" />
<circle cx="166.0" cy="647.2" r="4.6" fill="#4e4e4f" opacity="1.00"/>
<circle cx="177.3" cy="647.2" r="4.6" fill="#4e4e4f" opacity="0.85"/>
<circle cx="188.6" cy="647.2" r="4.6" fill="#4e4e4f" opacity="0.70"/>
<circle cx="199.9" cy="647.2" r="4.6" fill="#4e4e4f" opacity="0.55"/>
<circle cx="211.2" cy="647.2" r="4.6" fill="#4e4e4f" opacity="0.40"/>
<circle cx="222.5" cy="647.2" r="4.6" fill="#4e4e4f" opacity="0.25"/>
<circle cx="146.2" cy="671.4" r="4.5" fill="#5a5a5b"/>
<circle cx="146.2" cy="671.4" r="3.2" fill="#6a6a6b"/>
<circle cx="146.2" cy="683.2" r="4.5" fill="#5a5a5b"/>
<circle cx="146.2" cy="683.2" r="3.2" fill="#6a6a6b"/>
<circle cx="146.2" cy="694.2" r="4.5" fill="#5a5a5b"/>
<circle cx="146.2" cy="694.2" r="3.2" fill="#6a6a6b"/>
<circle cx="146.2" cy="705.5" r="4.5" fill="#5a5a5b"/>
<circle cx="146.2" cy="705.5" r="3.2" fill="#6a6a6b"/>
<circle cx="146.2" cy="716.2" r="4.5" fill="#5a5a5b"/>
<circle cx="146.2" cy="716.2" r="3.2" fill="#6a6a6b"/>
<circle cx="146.2" cy="727.6" r="4.5" fill="#5a5a5b"/>
<circle cx="146.2" cy="727.6" r="3.2" fill="#6a6a6b"/>
<rect x="158" y="660" width="10" height="60" fill="#18191a"/>
<rect x="140" y="740" width="22" height="50" fill="#131414"/>
<rect x="86" y="806" width="118" height="38" fill="#171718"/>
<rect x="91.0" y="807" width="8" height="34" fill="#262627"/>
<rect x="102.5" y="807" width="8" height="34" fill="#262627"/>
<rect x="114.0" y="807" width="8" height="34" fill="#262627"/>
<rect x="125.5" y="807" width="8" height="34" fill="#262627"/>
<rect x="137.0" y="807" width="8" height="34" fill="#262627"/>
<rect x="148.5" y="807" width="8" height="34" fill="#262627"/>
<rect x="160.0" y="807" width="8" height="34" fill="#262627"/>
<rect x="171.5" y="807" width="8" height="34" fill="#262627"/>
<rect x="183.0" y="807" width="8" height="34" fill="#262627"/>
<rect x="194.5" y="807" width="8" height="34" fill="#262627"/>
<rect x="88" y="846" width="160" height="8" fill="#1c1c1d"/>
<rect x="88" y="858" width="160" height="5" fill="#141415"/>
<rect x="30" y="808" width="50" height="30" fill="#0f0f10"/>
<circle cx="43" cy="823" r="6" fill="none" stroke="#2c2c2c" stroke-width="1.5" stroke-dasharray="2 2"/>
<rect x="19" y="560" width="240" height="331" fill="url(#tvFadeR)"/>
<rect x="0" y="560" width="260" height="40" fill="url(#tvFadeT)"/>
<rect x="0" y="800" width="400" height="91" fill="url(#tvFadeB)"/>
<clipPath id="clipC"><polygon points="166,565 570,565 570,891 236,891 196,806 166,770"/></clipPath>
<g clip-path="url(#clipC)"><g transform="matrix(0.869,0.0033,-0.0108,0.926,33.67,448.6)"><use href="#scene"/></g></g>
<rect x="140" y="560" width="605" height="331" fill="url(#cFadeD)"/>
<rect x="140" y="820" width="605" height="71" fill="url(#cFadeB2)"/>
<clipPath id="clipE"><polygon points="20.6,593.4 86.7,593.4 136.2,641.6 136.2,790.3 119.2,803.6 20.6,803.6"/></clipPath>
<g clip-path="url(#clipE)">
<rect x="19" y="593" width="61" height="212" fill="url(#plateE)"/>
<rect x="79.5" y="593" width="7.5" height="212" fill="#a0a3a6"/>
<rect x="87" y="593" width="32.5" height="212" fill="#2a2c2f"/>
<rect x="88.2" y="593" width="2.2" height="212" fill="#787b81"/>
<rect x="92.2" y="593" width="2.2" height="212" fill="#787b81"/>
<rect x="96.2" y="593" width="2.2" height="212" fill="#787b81"/>
<rect x="100.2" y="593" width="2.2" height="212" fill="#787b81"/>
<rect x="104.2" y="593" width="2.2" height="212" fill="#787b81"/>
<rect x="108.2" y="593" width="2.2" height="212" fill="#787b81"/>
<rect x="112.2" y="593" width="2.2" height="212" fill="#787b81"/>
<rect x="116.2" y="593" width="2.2" height="212" fill="#787b81"/>
<rect x="119.5" y="593" width="17" height="212" fill="#393b3f"/>
<line x1="119.8" y1="593.0" x2="119.8" y2="805.0" stroke="#1c1d1f" stroke-width="1.00" />
<polyline points="24.0,603.0 34.0,603.0 65.0,634.0 65.0,690.0 52.0,703.0 38.0,703.0" fill="none" stroke="#5d6064" stroke-width="1.00" opacity="0.9"/>
<polyline points="24.0,613.0 33.0,613.0 33.0,662.0 25.0,670.0" fill="none" stroke="#606367" stroke-width="1.00" opacity="0.8"/>
<polyline points="36.0,610.0 58.0,632.0" fill="none" stroke="#606367" stroke-width="1.20" opacity="0.8"/>
<polyline points="24.0,760.0 34.0,752.0 60.0,778.0 60.0,800.0" fill="none" stroke="#606367" stroke-width="1.00" opacity="0.8"/>
<polyline points="28.0,772.0 48.0,772.0 48.0,784.0 66.0,784.0" fill="none" stroke="#606367" stroke-width="1.00" opacity="0.7"/>
<line x1="67.0" y1="650.0" x2="71.5" y2="650.0" stroke="#4a4d51" stroke-width="1.10" />
<line x1="67.0" y1="653.2" x2="71.5" y2="653.2" stroke="#4a4d51" stroke-width="1.10" />
<line x1="67.0" y1="656.4" x2="71.5" y2="656.4" stroke="#4a4d51" stroke-width="1.10" />
<line x1="67.0" y1="659.6" x2="71.5" y2="659.6" stroke="#4a4d51" stroke-width="1.10" />
<line x1="67.0" y1="662.8" x2="71.5" y2="662.8" stroke="#4a4d51" stroke-width="1.10" />
<line x1="67.0" y1="666.0" x2="71.5" y2="666.0" stroke="#4a4d51" stroke-width="1.10" />
<line x1="67.0" y1="669.2" x2="71.5" y2="669.2" stroke="#4a4d51" stroke-width="1.10" />
<line x1="67.0" y1="672.4" x2="71.5" y2="672.4" stroke="#4a4d51" stroke-width="1.10" />
<line x1="67.0" y1="675.6" x2="71.5" y2="675.6" stroke="#4a4d51" stroke-width="1.10" />
<line x1="67.0" y1="678.8" x2="71.5" y2="678.8" stroke="#4a4d51" stroke-width="1.10" />
<line x1="67.0" y1="682.0" x2="71.5" y2="682.0" stroke="#4a4d51" stroke-width="1.10" />
<line x1="67.0" y1="685.2" x2="71.5" y2="685.2" stroke="#4a4d51" stroke-width="1.10" />
<line x1="67.0" y1="688.4" x2="71.5" y2="688.4" stroke="#4a4d51" stroke-width="1.10" />
<line x1="19.0" y1="664.0" x2="49.0" y2="687.2" stroke="#2a2c2e" stroke-width="1.00" opacity="0.85"/>
<line x1="19.0" y1="668.0" x2="50.5" y2="692.4" stroke="#2a2c2e" stroke-width="1.00" opacity="0.85"/>
<line x1="19.0" y1="672.0" x2="52.0" y2="697.6" stroke="#2a2c2e" stroke-width="1.00" opacity="0.85"/>
<line x1="19.0" y1="676.0" x2="53.5" y2="702.7" stroke="#2a2c2e" stroke-width="1.00" opacity="0.85"/>
<line x1="19.0" y1="680.0" x2="55.0" y2="707.9" stroke="#2a2c2e" stroke-width="1.00" opacity="0.85"/>
<line x1="19.0" y1="684.0" x2="56.5" y2="713.1" stroke="#2a2c2e" stroke-width="1.00" opacity="0.85"/>
<line x1="19.0" y1="688.0" x2="58.0" y2="718.2" stroke="#2a2c2e" stroke-width="1.00" opacity="0.85"/>
<line x1="19.0" y1="692.0" x2="59.5" y2="723.4" stroke="#2a2c2e" stroke-width="1.00" opacity="0.85"/>
<polyline points="17.0,696.2 86.0,749.6 122.0,787.6" fill="none" stroke="#060707" stroke-width="2.90" />
<polyline points="17.0,704.5 86.0,757.9 122.0,795.9" fill="none" stroke="#060707" stroke-width="2.90" />
<polyline points="17.0,712.8 86.0,766.2 122.0,804.2" fill="none" stroke="#060707" stroke-width="2.90" />
<polyline points="17.0,720.8 86.0,774.2 122.0,812.2" fill="none" stroke="#060707" stroke-width="2.90" />
<polyline points="17.0,728.6 86.0,782.0 122.0,820.0" fill="none" stroke="#060707" stroke-width="2.90" />
<polyline points="17.0,736.2 86.0,789.6 122.0,827.6" fill="none" stroke="#060707" stroke-width="2.90" />
<text x="0" y="0" transform="translate(85,728) rotate(-90)" font-family="Liberation Sans, sans-serif" font-size="5" font-weight="700" letter-spacing="1.1" fill="#5f6266">GAMING SERIES</text>
<line x1="83.2" y1="731.0" x2="83.2" y2="738.0" stroke="#d9601c" stroke-width="1.80" stroke-dasharray="1.6 0.8"/>
</g>
<polygon points="48.8,648.0 55.6,658.6 42.0,658.6" fill="none" stroke="#e5603a" stroke-width="2.1" stroke-linejoin="round"/>
<polygon points="20.6,593.4 86.7,593.4 136.2,641.6 136.2,790.3 119.2,803.6 20.6,803.6" fill="none" stroke="#e8672a" stroke-width="2.3"/>
<rect x="19" y="805" width="100" height="6" fill="#1d1e20"/>
<polyline points="350.0,612.0 535.0,612.0" fill="none" stroke="#f26a12" stroke-width="1.30" />
<polyline points="408.7,612.0 498.3,668.7 535.0,668.7" fill="none" stroke="#f26a12" stroke-width="1.30" />
<polyline points="263.6,725.0 337.0,778.6 535.0,778.6" fill="none" stroke="#f26a12" stroke-width="1.30" />
<circle cx="350.0" cy="612.0" r="4.2" fill="#f2701a"/>
<circle cx="263.6" cy="725.0" r="4.2" fill="#f2701a"/>
<line x1="0.0" y1="76.3" x2="176.0" y2="76.3" stroke="#b4520f" stroke-width="1.20" />
<polygon points="174.5,76.8 180.5,76.8 190.5,65.8 184.0,65.8" fill="#f26a12" />
<line x1="24.0" y1="83.8" x2="84.0" y2="83.8" stroke="#8a4a1c" stroke-width="1.20" />
<polygon points="82.0,83.0 179.0,83.0 222.5,125.0 222.0,126.6 176.5,87.6 86.0,87.6" fill="#f26a12" />
<polygon points="196.0,82.0 202.0,82.0 232.0,110.0 262.5,110.0 270.0,103.0 296.0,103.0 298.0,105.0 435.0,105.0 439.0,103.0 462.5,103.0 471.0,110.6 501.0,110.6 529.0,82.0 535.5,82.0 507.5,112.3 228.0,112.3" fill="#f26a12" />
<polygon points="228.7,101.0 245.3,101.0 237.0,110.0" fill="#39d7dc" />
<polygon points="486.7,101.5 502.7,101.5 494.7,110.0" fill="#39d7dc" />
<line x1="517.5" y1="44.5" x2="537.0" y2="63.0" stroke="#c65a10" stroke-width="1.20" />
<polygon points="535.0,61.0 538.5,61.0 551.0,71.2 643.0,71.2 645.0,76.2 549.0,76.2" fill="#f26a12" />
<line x1="643.0" y1="75.6" x2="705.0" y2="75.6" stroke="#9a4a12" stroke-width="1.20" />
<polygon points="539.0,92.6 545.0,92.6 554.0,82.4 547.5,82.4" fill="#f26a12" />
<line x1="552.0" y1="83.0" x2="745.0" y2="83.0" stroke="#c65a10" stroke-width="1.30" />
<polyline points="384.0,193.0 428.6,193.0 493.6,231.0 534.5,231.0" fill="none" stroke="#f26a12" stroke-width="1.30" />
<polyline points="149.5,349.0 228.6,414.0 291.0,414.0" fill="none" stroke="#f26a12" stroke-width="1.30" />
<polyline points="430.5,471.8 539.5,471.8 575.5,445.8" fill="none" stroke="#f26a12" stroke-width="1.30" />
<polygon points="543.7,214.8 732.0,214.8 737.0,219.8 737.0,241.0 731.0,247.0 540.7,247.0 533.7,240.0 533.7,222.8" fill="#030303" stroke="#b6500f" stroke-width="2.6" opacity="0.45" filter="url(#glowO)"/>
<polygon points="543.7,214.8 732.0,214.8 737.0,219.8 737.0,241.0 731.0,247.0 540.7,247.0 533.7,240.0 533.7,222.8" fill="#030303" stroke="#c95c14" stroke-width="1.3"/>
<polygon points="544.7,212.5 612.2,212.5 614.7,216.0 541.7,216.0" fill="#f47a1c" />
<polygon points="646.0,246.1 737.0,246.1 737.0,247.5 733.5,250.2 649.5,250.2" fill="#f47a1c" />
<polygon points="536.6,225.6 542.5,231.2 536.6,236.8" fill="#4fdcec" />
<polygon points="27.7,314.2 215.5,314.2 220.5,319.2 220.5,339.8 214.5,345.8 24.7,345.8 17.7,338.8 17.7,322.2" fill="#030303" stroke="#b6500f" stroke-width="2.6" opacity="0.45" filter="url(#glowO)"/>
<polygon points="27.7,314.2 215.5,314.2 220.5,319.2 220.5,339.8 214.5,345.8 24.7,345.8 17.7,338.8 17.7,322.2" fill="#030303" stroke="#c95c14" stroke-width="1.3"/>
<polygon points="28.7,311.9 96.2,311.9 98.7,315.4 25.7,315.4" fill="#f47a1c" />
<polygon points="127.5,344.9 220.5,344.9 220.5,346.3 217.0,349.0 131.0,349.0" fill="#f47a1c" />
<polygon points="20.6,324.7 26.5,330.3 20.6,335.9" fill="#4fdcec" />
<polygon points="543.7,413.4 732.0,413.4 737.0,418.4 737.0,439.6 731.0,445.6 540.7,445.6 533.7,438.6 533.7,421.4" fill="#030303" stroke="#b6500f" stroke-width="2.6" opacity="0.45" filter="url(#glowO)"/>
<polygon points="543.7,413.4 732.0,413.4 737.0,418.4 737.0,439.6 731.0,445.6 540.7,445.6 533.7,438.6 533.7,421.4" fill="#030303" stroke="#c95c14" stroke-width="1.3"/>
<polygon points="544.7,411.1 612.2,411.1 614.7,414.6 541.7,414.6" fill="#f47a1c" />
<polygon points="646.0,444.7 737.0,444.7 737.0,446.1 733.5,448.8 649.5,448.8" fill="#f47a1c" />
<polygon points="536.6,424.2 542.5,429.8 536.6,435.4" fill="#4fdcec" />
<circle cx="372.5" cy="193.0" r="12.3" fill="#140800" opacity="0.8"/><circle cx="372.5" cy="193.0" r="11.1" fill="#f57e1e"/><line x1="366.3" y1="193.0" x2="378.7" y2="193.0" stroke="#1a0b02" stroke-width="2.90" /><line x1="372.5" y1="186.8" x2="372.5" y2="199.2" stroke="#1a0b02" stroke-width="2.90" />
<circle cx="301.8" cy="414.4" r="12.3" fill="#140800" opacity="0.8"/><circle cx="301.8" cy="414.4" r="11.1" fill="#f57e1e"/><line x1="295.6" y1="414.4" x2="308.0" y2="414.4" stroke="#1a0b02" stroke-width="2.90" /><line x1="301.8" y1="408.2" x2="301.8" y2="420.6" stroke="#1a0b02" stroke-width="2.90" />
<circle cx="419.3" cy="471.8" r="12.3" fill="#140800" opacity="0.8"/><circle cx="419.3" cy="471.8" r="11.1" fill="#f57e1e"/><line x1="413.1" y1="471.8" x2="425.5" y2="471.8" stroke="#1a0b02" stroke-width="2.90" /><line x1="419.3" y1="465.6" x2="419.3" y2="478.0" stroke="#1a0b02" stroke-width="2.90" />
</svg>
<div class="t cy" style="left:325.0px;top:56.5px;font-size:38.0px;letter-spacing:5.50px;transform:skewX(-12deg) scaleX(1.000);">散热</div>
<div class="t cy" style="left:549.5px;top:224.3px;font-size:21.4px;letter-spacing:1.20px;transform:skewX(-12deg) scaleX(1.000);">全覆盖散热设计</div>
<div class="t cy" style="left:33.0px;top:318.8px;font-size:23.0px;letter-spacing:0.00px;transform:skewX(-12deg) scaleX(0.690);-webkit-text-stroke:0.8px #20e8e2;">M.2 SSD</div>
<div class="t cy" style="left:103.0px;top:320.0px;font-size:21.0px;letter-spacing:1.20px;transform:skewX(-12deg) scaleX(1.000);">散热装甲</div>
<div class="t cy" style="left:550.0px;top:419.7px;font-size:21.2px;letter-spacing:2.00px;transform:skewX(-12deg) scaleX(1.000);">2盎司铜电路板</div>
<div class="t cy" style="left:549.0px;top:601.5px;font-size:21.0px;letter-spacing:1.60px;transform:skewX(-12deg) scaleX(1.000);">更大散热表面积</div>
<div class="t cy" style="left:542.0px;top:659.0px;font-size:21.0px;letter-spacing:1.20px;transform:skewX(-12deg) scaleX(1.000);">一体式成型设计</div>
<div class="t cy" style="left:549.0px;top:764.5px;font-size:21.0px;letter-spacing:1.60px;transform:skewX(-12deg) scaleX(1.000);">复合式剖沟设计</div>
<div class="t bd" style="left:548.0px;top:527.9px;">与传统散热器相比，大幅</div>
<div class="t bd" style="left:548.0px;top:552.4px;">增加了表面积。它改善了</div>
<div class="t bd" style="left:548.0px;top:576.1px;">供电的散热。</div>
<div class="t bd" style="left:548.0px;top:686.6px;">一体成型的散热片，带来</div>
<div class="t bd" style="left:548.0px;top:706.2px;">更大的表面积。相比多块</div>
<div class="t bd" style="left:548.0px;top:726.2px;">散热片大大提高了散热性</div>
<div class="t bd" style="left:548.0px;top:745.8px;">能。</div>
<div class="t bd" style="left:548.0px;top:800.0px;">在散热器上有多个个通道</div>
<div class="t bd" style="left:548.0px;top:819.6px;">和出入口。这种设计允许</div>
<div class="t bd" style="left:548.0px;top:839.0px;">气流通过，从而大大提高</div>
<div class="t bd" style="left:548.0px;top:858.6px;">了散热性能。</div>
</body></html>
